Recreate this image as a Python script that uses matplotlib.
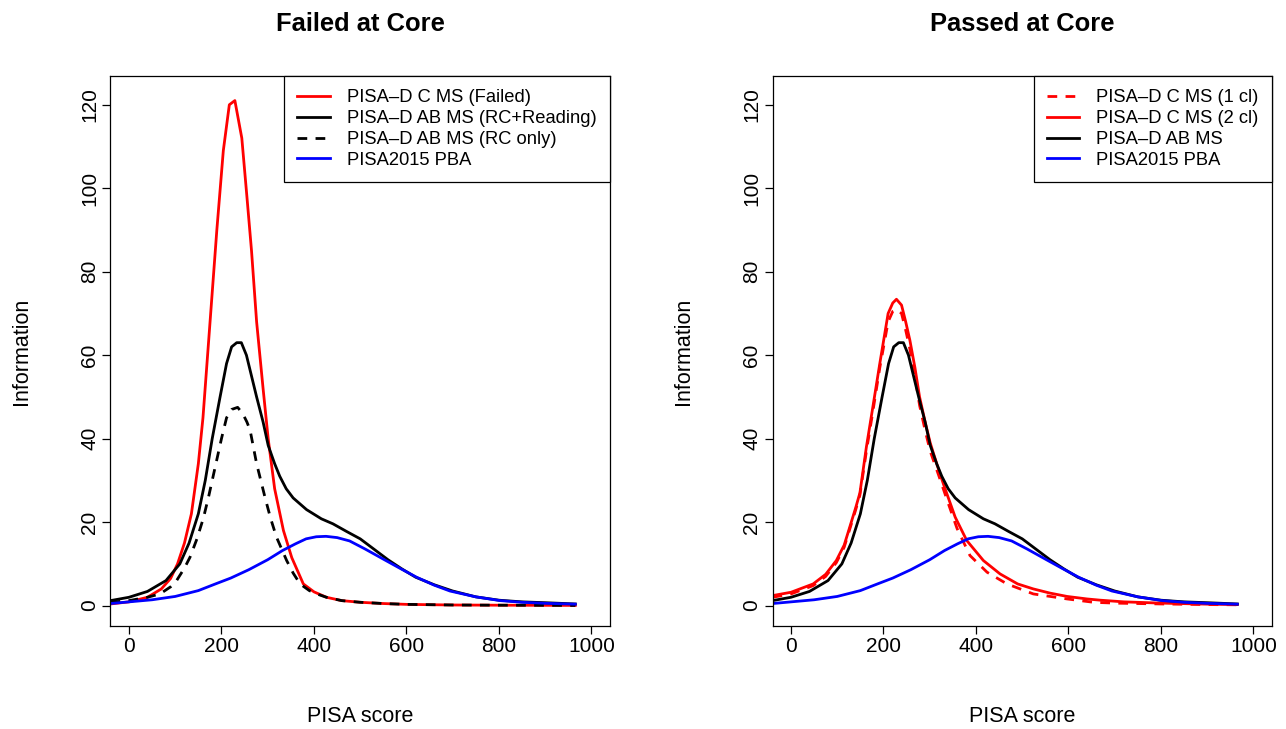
import numpy as np
import matplotlib
matplotlib.use("Agg")
import matplotlib.pyplot as plt

plt.rcParams['font.family'] = ['Liberation Sans', 'DejaVu Sans']

# ---- data ----
# PISA-D AB MS (same curve in both panels)
ab_x = [-40, 0, 40, 80, 110, 130, 150, 165, 180, 197, 211, 222, 233, 243, 254,
        265, 276, 290, 301, 315, 326, 340, 355, 384, 416, 441, 470, 500, 530,
        560, 590, 620, 660, 700, 750, 800, 850, 900, 965]
ab_y = [1.2, 2.0, 3.4, 6.0, 10.0, 15.0, 22.0, 30.0, 40.0, 50.0, 58.0, 62.0, 63.0,
        63.0, 60.0, 55.0, 50.0, 44.0, 38.4, 34.0, 31.0, 28.0, 25.8, 23.0, 20.8,
        19.6, 17.8, 16.0, 13.5, 11.0, 8.8, 6.8, 5.0, 3.5, 2.1, 1.3, 0.9, 0.7, 0.4]

# PISA-D AB MS (RC only)
rc_x = [-40, 0, 40, 67, 90, 103, 120, 132, 147, 161, 172, 182, 192, 200, 211,
        222, 235, 246, 255, 262, 276, 294, 306, 319, 341, 355, 370, 390, 406,
        427, 460, 500, 550, 600, 700, 800, 965]
rc_y = [0.8, 1.2, 2.0, 2.8, 4.5, 6.0, 9.0, 11.6, 16.0, 21.0, 26.0, 31.0, 36.0,
        40.0, 45.0, 47.0, 47.5, 46.0, 44.0, 42.0, 34.0, 26.0, 21.0, 16.4, 10.8,
        7.8, 5.2, 3.6, 2.8, 2.0, 1.2, 0.8, 0.5, 0.3, 0.15, 0.1, 0.05]

# PISA-D C MS (Failed)
cf_x = [-40, 0, 40, 70, 90, 105, 120, 135, 150, 160, 170, 180, 190, 204, 217,
        229, 244, 255, 265, 276, 290, 301, 315, 334, 352, 377, 400, 427, 460,
        500, 550, 600, 700, 800, 965]
cf_y = [0.4, 0.9, 2.0, 4.0, 6.5, 10.0, 15.0, 22.0, 34.0, 45.0, 60.0, 75.0, 90.0,
        109.0, 120.0, 121.0, 112.0, 98.0, 85.0, 68.0, 52.0, 40.0, 28.0, 18.0,
        11.5, 5.2, 3.3, 2.0, 1.2, 0.8, 0.5, 0.3, 0.15, 0.1, 0.05]

# PISA-D C MS (2 cl)
c2_x = [-40, 0, 48, 75, 98, 115, 127, 140, 149, 163, 177, 192, 210, 220, 228,
        239, 248, 257, 268, 278, 290, 301, 315, 330, 355, 380, 416, 452, 490,
        524, 560, 597, 640, 669, 720, 800, 900, 965]
c2_y = [2.4, 3.2, 5.2, 7.5, 10.8, 14.5, 18.8, 23.5, 27.0, 38.0, 47.6, 58.0, 70.0,
        72.5, 73.4, 72.0, 68.0, 63.6, 57.0, 50.0, 44.0, 39.0, 34.0, 29.0, 21.2,
        15.6, 10.8, 7.6, 5.2, 4.0, 3.0, 2.2, 1.6, 1.3, 0.9, 0.6, 0.35, 0.25]

# PISA-D C MS (1 cl)
c1_x = [-40, 0, 48, 75, 98, 115, 127, 140, 149, 163, 177, 192, 210, 220, 228,
        239, 248, 257, 268, 278, 290, 301, 320, 340, 359, 387, 424, 467, 524,
        597, 654, 700, 800, 900, 965]
c1_y = [2.0, 2.8, 4.8, 7.0, 10.3, 14.0, 18.3, 23.0, 26.5, 37.0, 46.5, 57.0, 68.0,
        70.5, 71.0, 70.0, 66.0, 61.5, 55.0, 48.0, 42.0, 37.0, 31.0, 24.5, 18.5,
        12.0, 8.0, 5.2, 2.8, 1.6, 0.8, 0.6, 0.4, 0.25, 0.2]

# PISA2015 PBA (same in both panels)
pba_x = [-40, 0, 50, 100, 150, 187, 220, 259, 300, 332, 360, 383, 405, 426, 450,
         477, 510, 549, 585, 622, 660, 694, 750, 803, 850, 900, 965]
pba_y = [0.5, 0.9, 1.4, 2.2, 3.6, 5.2, 6.6, 8.6, 11.0, 13.2, 14.8, 16.0, 16.5,
         16.6, 16.3, 15.5, 13.6, 11.2, 9.0, 6.8, 4.9, 3.5, 2.1, 1.2, 0.8, 0.55, 0.35]

xticks = [0, 200, 400, 600, 800, 1000]
yticks = [0, 20, 40, 60, 80, 100, 120]

LW = 2.0
DASH = (3.5, 3.0)


def style_axes(ax, title):
    ax.set_xlim(-40, 1040)
    ax.set_ylim(-4.88, 126.88)
    ax.set_xticks(xticks)
    ax.set_yticks(yticks)
    ax.tick_params(length=5.5, width=0.9, labelsize=15, pad=2.5)
    for lab in ax.get_yticklabels():
        lab.set_rotation(90)
        lab.set_va('center')
    for sp in ax.spines.values():
        sp.set_linewidth(0.9)
    ax.set_xlabel('PISA score', fontsize=15.5)
    ax.set_ylabel('Information', fontsize=15.5)
    ax.xaxis.set_label_coords(0.5, -0.164)
    ax.xaxis.label.set_va('center')
    ax.yaxis.set_label_coords(-0.178, 0.5)
    ax.yaxis.label.set_va('center')
    ax.set_title(title, fontsize=18.4, fontweight='bold', y=1.08, va='center')


def add_legend(ax):
    leg = ax.legend(loc='upper right', bbox_to_anchor=(1, 1), borderaxespad=0,
                    fancybox=False, framealpha=1, edgecolor='black',
                    fontsize=13.2, handlelength=1.75, handletextpad=0.95,
                    labelspacing=0.21, borderpad=0.72)
    leg.get_frame().set_linewidth(0.9)


fig = plt.figure(figsize=(12.86, 7.29), dpi=100)
ax1 = fig.add_axes([0.0859, 0.1413, 0.3884, 0.7544])
ax2 = fig.add_axes([0.6007, 0.1413, 0.3884, 0.7544])

ax1.plot(cf_x, cf_y, color='red', lw=LW, label='PISA\u2013D C MS (Failed)')
ax1.plot(ab_x, ab_y, color='black', lw=LW, label='PISA\u2013D AB MS (RC+Reading)')
ax1.plot(rc_x, rc_y, color='black', lw=LW, ls=(0, DASH), label='PISA\u2013D AB MS (RC only)')
ax1.plot(pba_x, pba_y, color='blue', lw=LW, label='PISA2015 PBA')
style_axes(ax1, 'Failed at Core')
add_legend(ax1)

ax2.plot(c1_x, c1_y, color='red', lw=LW, ls=(0, DASH), label='PISA\u2013D C MS (1 cl)')
ax2.plot(c2_x, c2_y, color='red', lw=LW, label='PISA\u2013D C MS (2 cl)')
ax2.plot(ab_x, ab_y, color='black', lw=LW, label='PISA\u2013D AB MS')
ax2.plot(pba_x, pba_y, color='blue', lw=LW, label='PISA2015 PBA')
style_axes(ax2, 'Passed at Core')
add_legend(ax2)

fig.savefig('out.png', dpi=100)
